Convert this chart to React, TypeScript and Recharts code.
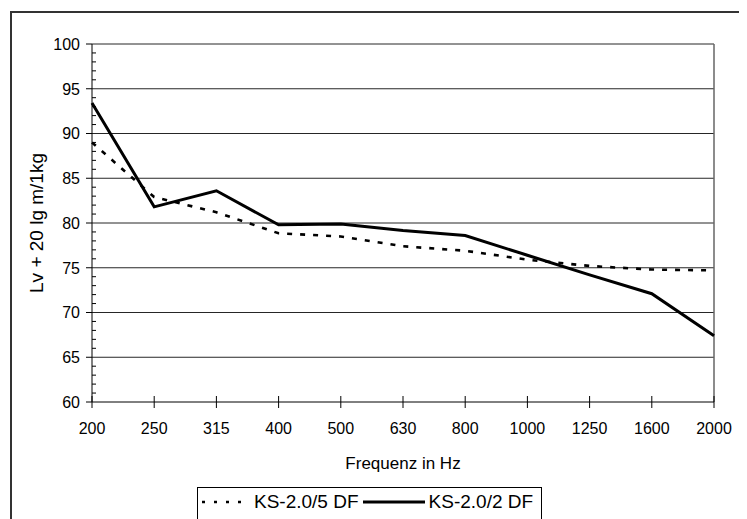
import React from 'react';
import { LineChart, Line, XAxis, YAxis, Legend, ReferenceLine } from 'recharts';

const categories = ['200', '250', '315', '400', '500', '630', '800', '1000', '1250', '1600', '2000'];
const ks5DF = [89.0, 82.9, 81.2, 78.85, 78.5, 77.4, 76.9, 75.9, 75.2, 74.8, 74.7];
const ks2DF = [93.4, 81.8, 83.6, 79.8, 79.9, 79.15, 78.6, 76.4, 74.2, 72.1, 67.4];
const yTicks = [
  60, 61, 62, 63, 64, 65, 66, 67, 68, 69, 70, 71, 72, 73, 74, 75, 76, 77, 78, 79, 80,
  81, 82, 83, 84, 85, 86, 87, 88, 89, 90, 91, 92, 93, 94, 95, 96, 97, 98, 99, 100,
];
const yLabelTicks = [60, 65, 70, 75, 80, 85, 90, 95, 100];
const gridValues = [65, 70, 75, 80, 85, 90, 95, 100];

const series = [
  { key: 'ks5', name: 'KS-2.0/5 DF', dash: '5 8', width: 2.6, sample: 48 },
  { key: 'ks2', name: 'KS-2.0/2 DF', dash: undefined as string | undefined, width: 3, sample: 62 },
];

const data = categories.map((c, i) => ({ freq: c, ks5: ks5DF[i], ks2: ks2DF[i] }));

const FONT = '"Liberation Sans", Arial, sans-serif';
const TICK_SIZE = 6;
const TICK_MARGIN_Y = 6;
const TICK_MARGIN_X = 15;

const YTick = (props: any) => {
  const { x, y, payload } = props;
  const axisX = x + TICK_SIZE + TICK_MARGIN_Y;
  const v = payload.value;
  const major = yLabelTicks.includes(v);
  return (
    <g>
      {major ? (
        <line x1={axisX - TICK_SIZE} x2={axisX} y1={y} y2={y} stroke="#000" strokeWidth={1} />
      ) : (
        <line x1={axisX} x2={axisX + 4} y1={y} y2={y} stroke="#000" strokeWidth={1} />
      )}
      {major && (
        <text x={x} y={y} dy="0.36em" textAnchor="end" fontSize={16} fontFamily={FONT} fill="#000">
          {v}
        </text>
      )}
    </g>
  );
};

const XTick = (props: any) => {
  const { x, y, payload } = props;
  const axisY = y - TICK_SIZE - TICK_MARGIN_X;
  return (
    <g>
      <line x1={x} x2={x} y1={axisY - 6} y2={axisY + 6} stroke="#000" strokeWidth={1} />
      <text x={x} y={y} dy="0.71em" textAnchor="middle" fontSize={16} fontFamily={FONT} fill="#000">
        {payload.value}
      </text>
    </g>
  );
};

const LegendContent = (props: any) => {
  const payload: any[] = props.payload || [];
  return (
    <div
      style={{
        display: 'flex',
        alignItems: 'center',
        border: '1px solid #000',
        background: '#fff',
        padding: '3px 8px 12px 4px',
        fontFamily: FONT,
        fontSize: 19,
        lineHeight: '22px',
        whiteSpace: 'nowrap',
      }}
    >
      {series.map((s, i) => {
        const item = payload.find((p) => p.dataKey === s.key) || { value: s.name };
        return (
          <div key={s.key} style={{ display: 'flex', alignItems: 'center', marginRight: i === 0 ? 4 : 0 }}>
            <svg width={s.sample} height={10} style={{ marginRight: 4 }}>
              <line
                x1={0}
                x2={s.sample}
                y1={5}
                y2={5}
                stroke="#000"
                strokeWidth={s.width}
                strokeDasharray={s.dash ? '3 9' : undefined}
              />
            </svg>
            <span>{item.value}</span>
          </div>
        );
      })}
    </div>
  );
};

export default function App() {
  return (
    <div style={{ position: 'relative', width: 739, height: 511, overflow: 'hidden', background: '#fff' }}>
      <div
        style={{
          position: 'absolute',
          left: 2,
          top: 3,
          width: 800,
          height: 600,
          border: '2px solid #333',
          boxSizing: 'border-box',
        }}
      />
      <div style={{ position: 'absolute', left: 0, top: 0 }}>
        <LineChart width={739} height={511} data={data} margin={{ top: 36, right: 33, left: 4, bottom: 37 }}>
          {gridValues.map((v) => (
            <ReferenceLine key={v} y={v} stroke="#000" strokeOpacity={0.85} />
          ))}
          <ReferenceLine x="2000" stroke="#666" strokeWidth={1.5} />
          <XAxis
            dataKey="freq"
            height={80}
            stroke="#000"
            tickLine={false}
            tickSize={TICK_SIZE}
            tickMargin={TICK_MARGIN_X}
            interval={0}
            tick={<XTick />}
            label={(p: any) => {
              const vb = p.viewBox || {};
              return (
                <text
                  x={vb.x + vb.width / 2}
                  y={vb.y + 61}
                  dy="0.36em"
                  textAnchor="middle"
                  fontSize={17}
                  fontFamily={FONT}
                  fill="#000"
                >
                  Frequenz in Hz
                </text>
              );
            }}
          />
          <YAxis
            type="number"
            domain={[60, 100]}
            ticks={yTicks}
            interval={0}
            width={80}
            stroke="#000"
            tickLine={false}
            tickSize={TICK_SIZE}
            tickMargin={TICK_MARGIN_Y}
            tick={<YTick />}
            label={(p: any) => {
              const vb = p.viewBox || {};
              const cx = vb.x + 24;
              const cy = vb.y + vb.height / 2;
              return (
                <text
                  x={cx}
                  y={cy}
                  dy="0.36em"
                  textAnchor="middle"
                  transform={`rotate(-90 ${cx} ${cy})`}
                  fontSize={19}
                  fontFamily={FONT}
                  fill="#000"
                >
                  Lv + 20 lg m/1kg
                </text>
              );
            }}
          />
          {series.map((s) => (
            <Line
              key={s.key}
              dataKey={s.key}
              name={s.name}
              type="linear"
              stroke="#000"
              strokeWidth={s.width}
              strokeDasharray={s.dash}
              dot={false}
              activeDot={false}
              isAnimationActive={false}
            />
          ))}
          <Legend
            layout="horizontal"
            verticalAlign="middle"
            align="center"
            content={<LegendContent />}
            wrapperStyle={{ left: 189, top: 479, width: 'auto', height: 'auto' }}
          />
        </LineChart>
      </div>
    </div>
  );
}
